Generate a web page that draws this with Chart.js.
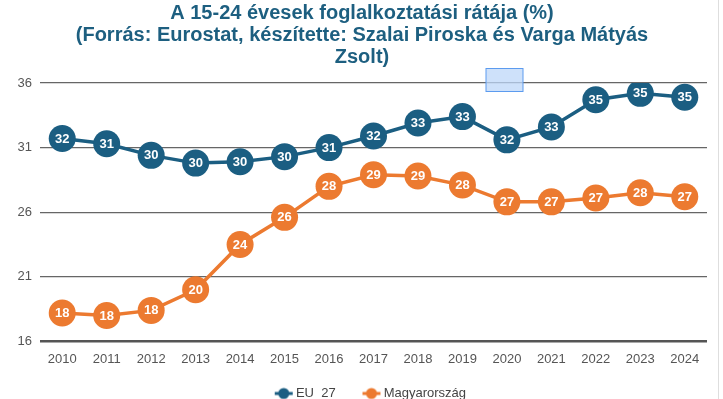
<!DOCTYPE html>
<html>
<head>
<meta charset="utf-8">
<script src="https://cdn.jsdelivr.net/npm/chart.js@4"></script>
<style>
    html, body { margin: 0; padding: 0; background: #fff; overflow: hidden; }
    #wrap { width: 723px; height: 399px; overflow: hidden; }
</style>
</head>
<body>
<div id="wrap"><canvas id="graphique" width="723" height="410"></canvas></div>
<script>
var years = ['2010', '2011', '2012', '2013', '2014', '2015', '2016', '2017', '2018', '2019', '2020', '2021', '2022', '2023', '2024']
var eu27 = [31.7, 31.3, 30.4, 29.8, 29.9, 30.3, 31.0, 31.9, 32.9, 33.4, 31.6, 32.6, 34.7, 35.2, 34.9]
var magyar = [18.2, 18.0, 18.4, 20.0, 23.5, 25.6, 28.0, 28.9, 28.8, 28.1, 26.8, 26.8, 27.1, 27.5, 27.2]
var seriesNames = ['EU_27', 'Magyarország']
var yTicks = [16, 21, 26, 31, 36]
var titleLines = [
    'A 15-24 évesek foglalkoztatási rátája (%)',
    '(Forrás: Eurostat, készítette: Szalai Piroska és Varga Mátyás',
    'Zsolt)'
]

var blue = '#1b5e82'
var orange = '#ec7a30'

Chart.defaults.font.family = "'Liberation Sans', Arial, sans-serif"

// small line + dot marker for the legend (drawn right of the box centre)
function legendMarker(color) {
    var c = document.createElement('canvas')
    c.width = 40
    c.height = 14
    var g = c.getContext('2d')
    g.strokeStyle = color
    g.lineWidth = 3
    g.beginPath()
    g.moveTo(21, 7)
    g.lineTo(39, 7)
    g.stroke()
    g.fillStyle = color
    g.beginPath()
    g.arc(30, 7, 5.5, 0, Math.PI * 2)
    g.fill()
    return c
}

var valueLabels = {
    id: 'valueLabels',
    afterDatasetsDraw: function (chart) {
        var ctx = chart.ctx
        ctx.save()
        ctx.fillStyle = '#fff'
        ctx.font = "bold 13px 'Liberation Sans', Arial, sans-serif"
        ctx.textAlign = 'center'
        ctx.textBaseline = 'middle'
        chart.data.datasets.forEach(function (ds, i) {
            chart.getDatasetMeta(i).data.forEach(function (pt, j) {
                ctx.fillText(String(Math.round(ds.data[j])), pt.x, pt.y + 0.5)
            })
        })
        ctx.restore()
    }
}

// page decorations seen in the screenshot: right border and the selection box
var decor = {
    id: 'decor',
    afterDraw: function (chart) {
        var ctx = chart.ctx
        ctx.save()
        ctx.strokeStyle = '#dedede'
        ctx.lineWidth = 1
        ctx.beginPath()
        ctx.moveTo(718.5, 0)
        ctx.lineTo(718.5, 410)
        ctx.stroke()
        ctx.fillStyle = 'rgba(190,215,248,0.75)'
        ctx.fillRect(486, 68.5, 37, 23)
        ctx.strokeStyle = '#5c9bef'
        ctx.strokeRect(486, 68.5, 37, 23)
        ctx.restore()
    }
}

var ctx = document.getElementById('graphique')
var lineChart = new Chart(ctx, {
    type: 'line',
    data: {
        labels: years,
        datasets: [{
            label: seriesNames[0],
            data: eu27,
            borderColor: blue,
            backgroundColor: blue,
            borderWidth: 3.5,
            pointRadius: 13.5,
            pointBorderWidth: 0,
            pointBackgroundColor: blue,
            tension: 0
        }, {
            label: seriesNames[1],
            data: magyar,
            borderColor: orange,
            backgroundColor: orange,
            borderWidth: 3.5,
            pointRadius: 13.5,
            pointBorderWidth: 0,
            pointBackgroundColor: orange,
            tension: 0
        }]
    },
    options: {
        responsive: false,
        animation: false,
        events: [],
        layout: { padding: { left: 17, right: 16, top: 0, bottom: 0 } },
        scales: {
            x: {
                offset: true,
                grid: { display: false, drawTicks: false },
                border: { display: false },
                ticks: { color: '#555', font: { size: 13 }, padding: 10, maxRotation: 0, autoSkip: false }
            },
            y: {
                min: 16,
                max: 36,
                afterBuildTicks: function (scale) {
                    scale.ticks = yTicks.map(function (v) { return { value: v } })
                },
                grid: {
                    drawTicks: false,
                    color: function (c) { return c.tick && c.tick.value === 16 ? '#555' : '#666' },
                    lineWidth: function (c) { return c.tick && c.tick.value === 16 ? 2.5 : 1.3 }
                },
                border: { display: false },
                ticks: { color: '#555', font: { size: 13 }, padding: 8 },
                afterFit: function (scale) { scale.width = 23 }
            }
        },
        plugins: {
            title: {
                display: true,
                text: titleLines,
                color: '#1d5f80',
                font: { size: 20, weight: 'bold', lineHeight: 1.1 },
                padding: { top: 2, bottom: 15 }
            },
            legend: {
                position: 'bottom',
                labels: {
                    usePointStyle: true,
                    pointStyleWidth: 31.5,
                    padding: 10,
                    color: '#444',
                    font: { size: 13 },
                    generateLabels: function (chart) {
                        var items = Chart.defaults.plugins.legend.labels.generateLabels(chart)
                        items.forEach(function (it) {
                            it.pointStyle = legendMarker(chart.data.datasets[it.datasetIndex].borderColor)
                        })
                        return items
                    }
                }
            },
            tooltip: { enabled: false }
        }
    },
    plugins: [valueLabels, decor]
})
</script>
</body>
</html>
